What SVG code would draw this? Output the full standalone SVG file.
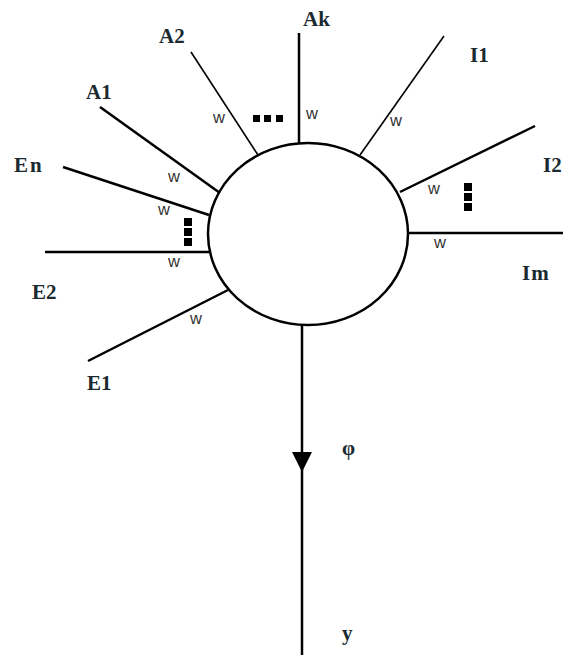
<svg xmlns="http://www.w3.org/2000/svg" width="563" height="655" viewBox="0 0 563 655">
<style>
.lbl{font-family:"Liberation Serif","Times New Roman",serif;font-weight:bold;font-size:21px;fill:#1a2a30}
.w{font-family:"Liberation Sans",Arial,sans-serif;font-size:16.5px;fill:#333}
.ln{stroke:#000;stroke-width:2.5;fill:none}
.thin{stroke:#000;stroke-width:1.6;fill:none}
</style>
<defs>
<marker id="arr" viewBox="0 0 20 20" refX="10" refY="10" markerWidth="20" markerHeight="20" markerUnits="userSpaceOnUse" orient="auto">
<path d="M0,0 L20,10 L0,20 Z" fill="#000"/>
</marker>
</defs>
<rect width="563" height="655" fill="#fff"/>
<g id="connectors">
<line class="thin" x1="191" y1="52" x2="258" y2="155"/>
<line class="ln" x1="100" y1="107" x2="220" y2="193"/>
<line class="ln" x1="63" y1="167" x2="209" y2="215"/>
<line class="ln" x1="45" y1="252" x2="209" y2="252"/>
<line class="ln" x1="88" y1="361" x2="228" y2="290"/>
<line class="ln" x1="299" y1="33" x2="299" y2="143"/>
<line class="thin" x1="444" y1="36" x2="360" y2="155"/>
<line class="ln" x1="535" y1="126" x2="400" y2="192"/>
<line class="ln" x1="408" y1="233" x2="563" y2="233"/>
<line class="ln" x1="302" y1="325" x2="302" y2="462" marker-end="url(#arr)"/>
<line class="ln" x1="302" y1="460" x2="302" y2="655"/>
</g>
<g id="neuron">
<ellipse cx="308" cy="234" rx="100" ry="91" fill="none" stroke="#000" stroke-width="2.5"/>
</g>
<g id="dots">
<rect x="253" y="115" width="7" height="7"/>
<rect x="264" y="115" width="7" height="7"/>
<rect x="276" y="115" width="7" height="7"/>
<rect x="184" y="218" width="8" height="8"/>
<rect x="184" y="228" width="8" height="8"/>
<rect x="184" y="238" width="8" height="8"/>
<rect x="464" y="183" width="8" height="8"/>
<rect x="464" y="193" width="8" height="8"/>
<rect x="464" y="203" width="8" height="8"/>
</g>
<g id="weights">
<text class="w" x="213" y="123">w</text>
<text class="w" x="168" y="182">w</text>
<text class="w" x="158" y="215">w</text>
<text class="w" x="168" y="267">w</text>
<text class="w" x="190" y="324">w</text>
<text class="w" x="306" y="119">w</text>
<text class="w" x="390" y="126">w</text>
<text class="w" x="428" y="194">w</text>
<text class="w" x="434" y="248">w</text>
</g>
<g id="labels">
<text class="lbl" x="159" y="43">A2</text>
<text class="lbl" x="86" y="99">A1</text>
<text class="lbl" x="14" y="172" letter-spacing="2">En</text>
<text class="lbl" x="32" y="299">E2</text>
<text class="lbl" x="87" y="390">E1</text>
<text class="lbl" x="303" y="26">Ak</text>
<text class="lbl" x="470" y="62">I1</text>
<text class="lbl" x="543" y="172">I2</text>
<text class="lbl" x="522" y="280" letter-spacing="1">Im</text>
<text class="lbl" x="342" y="455">φ</text>
<text class="lbl" x="342" y="640">y</text>
</g>
</svg>
